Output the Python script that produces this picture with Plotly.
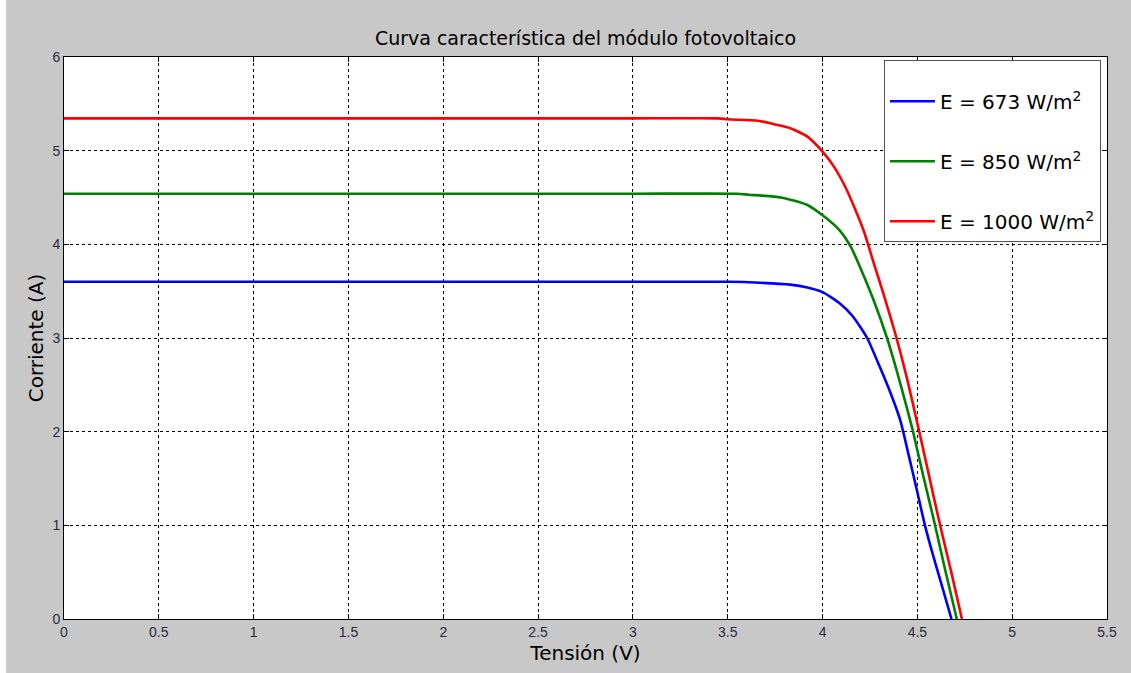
import plotly.graph_objects as go

# Curva I-V del módulo para tres niveles de irradiancia
v_673 = [0.0, 1.0, 2.0, 3.0, 3.50, 3.67, 3.83, 3.92, 4.00, 4.09, 4.16, 4.235, 4.30, 4.357,
         4.41, 4.453, 4.497, 4.54, 4.58, 4.63, 4.68]
i_673 = [3.60, 3.60, 3.60, 3.60, 3.60, 3.59, 3.57, 3.54, 3.49, 3.37, 3.23, 3.00, 2.70, 2.42,
         2.12, 1.76, 1.38, 1.00, 0.70, 0.35, 0.00]

v_850 = [0.0, 1.0, 2.0, 3.0, 3.55, 3.61, 3.78, 3.92, 4.00, 4.09, 4.15, 4.216, 4.27, 4.34,
         4.39, 4.444, 4.475, 4.532, 4.59, 4.647, 4.708]
i_850 = [4.54, 4.54, 4.54, 4.54, 4.54, 4.53, 4.50, 4.42, 4.31, 4.15, 3.97, 3.67, 3.40, 3.00,
         2.66, 2.26, 2.02, 1.52, 1.03, 0.52, 0.00]

v_1000 = [0.0, 1.0, 2.0, 3.0, 3.45, 3.50, 3.66, 3.75, 3.83, 3.92, 4.00, 4.06, 4.128, 4.216,
          4.27, 4.32, 4.39, 4.444, 4.51, 4.567, 4.62, 4.68, 4.735]
i_1000 = [5.345, 5.345, 5.345, 5.345, 5.345, 5.335, 5.32, 5.28, 5.24, 5.15, 4.99, 4.83, 4.58,
          4.15, 3.80, 3.48, 3.00, 2.58, 2.00, 1.48, 1.00, 0.49, 0.00]

series = [
    ("E = 673 W/m<sup>2</sup>", v_673, i_673, "#0000ff"),
    ("E = 850 W/m<sup>2</sup>", v_850, i_850, "#008000"),
    ("E = 1000 W/m<sup>2</sup>", v_1000, i_1000, "#ff0000"),
]

x_ticks = [0, 0.5, 1, 1.5, 2, 2.5, 3, 3.5, 4, 4.5, 5, 5.5]
y_ticks = [0, 1, 2, 3, 4, 5, 6]

fig = go.Figure()
for k, (name, v, i, color) in enumerate(series):
    fig.add_trace(go.Scatter(
        x=v, y=i, mode="lines", name=name, legendgroup=f"g{k}",
        line=dict(color=color, width=2.6, shape="spline", smoothing=0.6),
    ))

axis_common = dict(
    showline=True, linecolor="black", linewidth=1, mirror="ticks",
    ticks="inside", ticklen=5, tickcolor="black", tickwidth=1,
    showgrid=True, gridcolor="black", gridwidth=1, griddash="dot",
    zeroline=False,
    tickfont=dict(family="Liberation Sans", size=14, color="#2a2a3a"),
)

fig.update_layout(
    width=1131, height=673,
    paper_bgcolor="#c8c8c8", plot_bgcolor="white",
    margin=dict(l=64, r=24, t=57, b=54),
    title=dict(
        text="Curva característica del módulo fotovoltaico",
        x=(64 + 1107) / 2 / 1131, xanchor="center", y=1 - 38 / 673, yanchor="middle",
        font=dict(family="DejaVu Sans", size=19, color="black"),
    ),
    xaxis=dict(
        range=[0, 5.5], tickvals=x_ticks, ticktext=[f"{t:g}" for t in x_ticks],
        title=dict(text="Tensión (V)", standoff=7,
                   font=dict(family="DejaVu Sans", size=20, color="black")),
        **axis_common,
    ),
    yaxis=dict(
        range=[0, 6], tickvals=y_ticks, ticktext=[str(t) for t in y_ticks],
        title=dict(text="Corriente (A)", standoff=3,
                   font=dict(family="DejaVu Sans", size=20, color="black")),
        **axis_common,
    ),
    legend=dict(
        x=0.9942, xanchor="right", y=0.9947, yanchor="top",
        bgcolor="white", bordercolor="#555555", borderwidth=1,
        font=dict(family="DejaVu Sans", size=20, color="black"),
        title=dict(text=" ", font=dict(size=16)),
        tracegroupgap=31, itemwidth=45,
    ),
    showlegend=True,
    shapes=[dict(
        type="rect", xref="paper", yref="paper", layer="above",
        x0=-64 / 1043, x1=(6 - 64) / 1043, y0=-54 / 562, y1=1 + 57 / 562,
        fillcolor="white", line=dict(width=0),
    )],
)

fig.write_html("out.html")
